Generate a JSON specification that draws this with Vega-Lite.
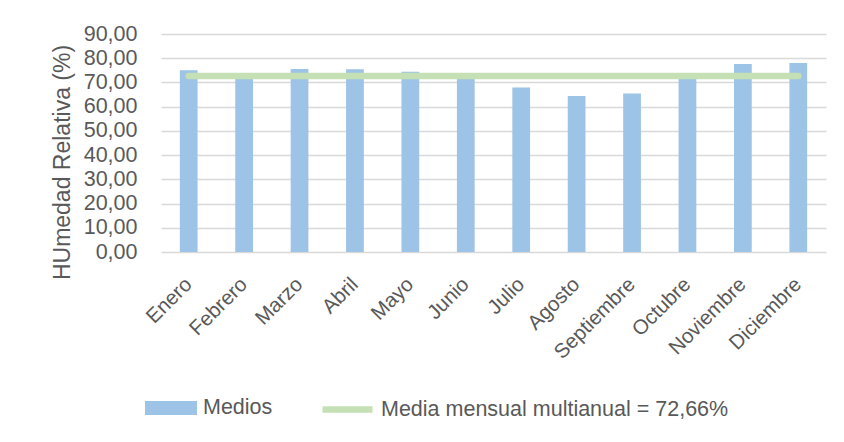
{
  "$schema": "https://vega.github.io/schema/vega-lite/v6.json",
  "autosize": {"type": "none"},
  "width": 665,
  "height": 218,
  "padding": {"left": 161, "top": 34, "right": 18, "bottom": 190},
  "background": "#ffffff",
  "config": {
    "view": {"stroke": null},
    "font": "Liberation Sans",
    "axis": {"labelColor": "#595959", "titleColor": "#595959", "labelFont": "Liberation Sans", "titleFont": "Liberation Sans"},
    "legend": {"labelColor": "#595959", "labelFont": "Liberation Sans"}
  },
  "data": {
    "values": [
      {"mes": "Enero", "humedad": 75.0},
      {"mes": "Febrero", "humedad": 72.8},
      {"mes": "Marzo", "humedad": 75.5},
      {"mes": "Abril", "humedad": 75.4},
      {"mes": "Mayo", "humedad": 74.4},
      {"mes": "Junio", "humedad": 72.5},
      {"mes": "Julio", "humedad": 67.9},
      {"mes": "Agosto", "humedad": 64.4},
      {"mes": "Septiembre", "humedad": 65.4},
      {"mes": "Octubre", "humedad": 72.2},
      {"mes": "Noviembre", "humedad": 77.6},
      {"mes": "Diciembre", "humedad": 78.0}
    ]
  },
  "layer": [
    {
      "mark": {"type": "bar"},
      "encoding": {
        "x": {
          "field": "mes", "type": "nominal", "sort": null,
          "scale": {"paddingInner": 0.68, "paddingOuter": 0.34},
          "axis": {"title": null, "labelAngle": -45, "labelAlign": "right", "labelBaseline": "middle", "labelFontSize": 20.5, "ticks": false, "domain": false, "labelPadding": 29, "labelOverlap": false}
        },
        "y": {
          "field": "humedad", "type": "quantitative",
          "scale": {"domain": [0, 90], "nice": false},
          "axis": {
            "title": "HUmedad Relativa (%)", "titleFontSize": 23, "titleFontWeight": "normal",
            "titleX": -99, "titleY": 128, "titleAngle": -90, "titleAlign": "center", "titleBaseline": "middle",
            "tickCount": 10, "values": [0, 10, 20, 30, 40, 50, 60, 70, 80, 90], "labelOverlap": false,
            "labelExpr": "replace(format(datum.value, '.2f'), '.', ',')",
            "labelFontSize": 21.5, "labelPadding": 24, "ticks": false, "domain": false,
            "gridColor": "#D9D9D9", "gridWidth": 1.5
          }
        },
        "fill": {
          "datum": "Medios",
          "scale": {"range": ["#9DC3E6"]},
          "legend": {
            "title": null, "orient": "none", "legendX": -16, "legendY": 348, "padding": 0,
            "symbolType": "M-1,-0.27H1V0.27H-1Z", "symbolSize": 2704, "symbolStrokeWidth": 0,
            "labelFontSize": 21.5, "labelOffset": 6
          }
        }
      }
    },
    {
      "mark": {"type": "line", "strokeWidth": 6.5, "strokeCap": "round"},
      "encoding": {
        "x": {"field": "mes", "type": "nominal", "sort": null},
        "y": {"datum": 72.66},
        "stroke": {
          "datum": "Media mensual multianual = 72,66%",
          "scale": {"range": ["#C5E0B4"]},
          "legend": {
            "title": null, "orient": "none", "legendX": 158, "legendY": 347, "padding": 0,
            "symbolType": "stroke", "symbolSize": 2500, "symbolStrokeWidth": 6.5,
            "labelFontSize": 21.5, "labelOffset": 5,
            "labelLimit": 500
          }
        }
      }
    }
  ]
}
